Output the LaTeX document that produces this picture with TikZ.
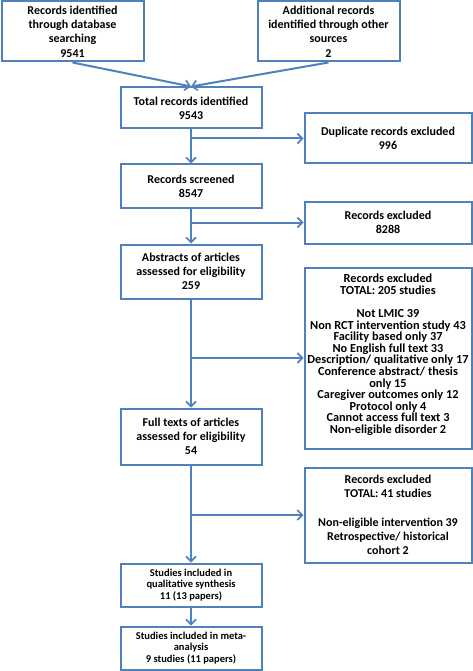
\documentclass[tikz,border=0pt]{standalone}
\usepackage{fontspec}
\setmainfont{Carlito}
\usetikzlibrary{arrows.meta}
\definecolor{obox}{HTML}{4F81BD}
\begin{document}
\begin{tikzpicture}[x=1pt,y=-1pt,
  box/.style={draw=obox,line width=2pt,fill=white,rectangle,align=center,inner sep=1pt,font=\bfseries\fontsize{12}{14.3}\selectfont},
  exbox/.style={box,font=\bfseries\fontsize{12.3}{11.6}\selectfont},
  smbox/.style={box,font=\bfseries\fontsize{10.5}{11.2}\selectfont},
  conn/.style={draw=obox,line width=2pt,-{Straight Barb[length=5pt,width=10pt,line width=1.6pt]}}]
\useasboundingbox (0,0) rectangle (473,671);
\node[box,minimum width=142pt,minimum height=60pt] (db) at (72.5,31.5) {Records identified\\through database\\searching\\9541};
\node[box,minimum width=142pt,minimum height=60pt] (oth) at (328.5,31.5) {Additional records\\identified through other\\sources\\2};
\node[box,minimum width=141pt,minimum height=41pt] (tot) at (191,108) {Total records identified\\9543};
\node[box,minimum width=167pt,minimum height=50pt] (dup) at (388,138.5) {Duplicate records excluded\\996};
\node[box,minimum width=141pt,minimum height=43pt] (scr) at (191,186) {Records screened\\8547};
\node[box,minimum width=167pt,minimum height=42pt] (ex1) at (388,222.5) {Records excluded\\8288};
\node[box,minimum width=141pt,minimum height=54pt] (abs) at (191,271.5) {Abstracts of articles\\assessed for eligibility\\259};
\node[exbox,minimum width=167pt,minimum height=181pt] (ex2) at (388,358) {Records excluded\\TOTAL: 205 studies\\[11.6pt]Not LMIC 39\\Non RCT intervention study 43\\Facility based only 37\\No English full text 33\\Description/ qualitative only 17\\Conference abstract/ thesis\\only 15\\Caregiver outcomes only 12\\Protocol only 4\\Cannot access full text 3\\Non-eligible disorder 2\\[-3pt]};
\node[box,minimum width=141pt,minimum height=56pt] (full) at (191,436.5) {Full texts of articles\\assessed for eligibility\\54};
\node[box,minimum width=167pt,minimum height=95pt] (ex3) at (388,515) {Records excluded\\TOTAL: 41 studies\\[14pt]Non-eligible intervention 39\\Retrospective/ historical\\cohort 2};
\node[smbox,minimum width=141pt,minimum height=43pt] (qual) at (191,585) {Studies included in\\qualitative synthesis\\11 (13 papers)};
\node[smbox,minimum width=141pt,minimum height=43pt] (meta) at (191,648) {Studies included in meta-\\analysis\\9 studies (11 papers)};
\draw[conn] (db.south) -- (tot.north);
\draw[conn] (oth.south) -- (tot.north);
\draw[conn] (tot.south) -- (scr.north);
\draw[conn] (tot.south |- dup.west) -- (dup.west);
\draw[conn] (scr.south) -- (abs.north);
\draw[conn] (scr.south |- ex1.west) -- (ex1.west);
\draw[conn] (abs.south) -- (full.north);
\draw[conn] (abs.south |- ex2.west) -- (ex2.west);
\draw[conn] (full.south) -- (qual.north);
\draw[conn] (full.south |- ex3.west) -- (ex3.west);
\draw[conn] (qual.south) -- (meta.north);
\end{tikzpicture}
\end{document}
